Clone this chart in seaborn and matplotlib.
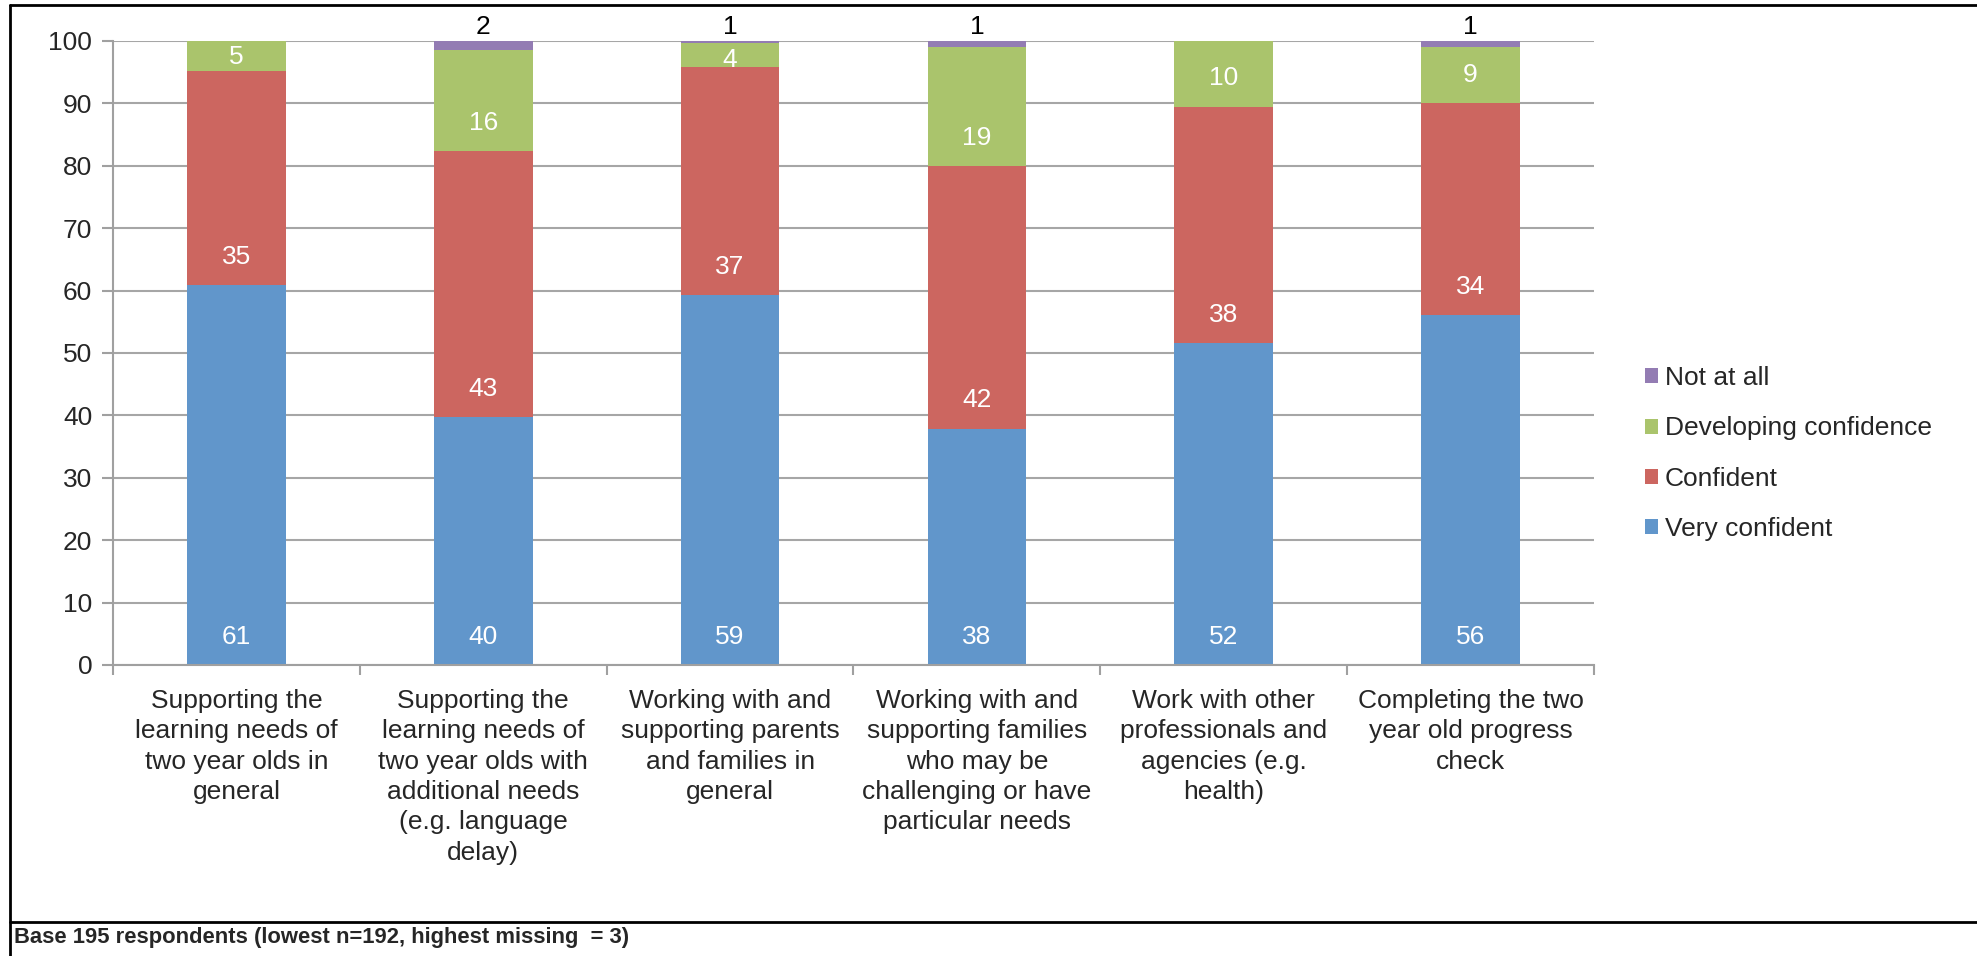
import matplotlib
matplotlib.use("Agg")
import matplotlib.pyplot as plt
import seaborn as sns
import numpy as np
import pandas as pd
from matplotlib.patches import Patch
from matplotlib.lines import Line2D

categories = [
    "Supporting the\nlearning needs of\ntwo year olds in\ngeneral",
    "Supporting the\nlearning needs of\ntwo year olds with\nadditional needs\n(e.g. language\ndelay)",
    "Working with and\nsupporting parents\nand families in\ngeneral",
    "Working with and\nsupporting families\nwho may be\nchallenging or have\nparticular needs",
    "Work with other\nprofessionals and\nagencies (e.g.\nhealth)",
    "Completing the two\nyear old progress\ncheck",
]
very_confident = [60.9, 39.7, 59.3, 37.9, 51.6, 56.1]
confident = [34.3, 42.7, 36.6, 42.1, 37.9, 34.0]
developing = [4.8, 16.1, 3.7, 19.0, 10.5, 8.9]
not_at_all = [0.0, 1.5, 0.4, 1.0, 0.0, 1.0]

very_confident_labels = [61, 40, 59, 38, 52, 56]
confident_labels = [35, 43, 37, 42, 38, 34]
developing_labels = [5, 16, 4, 19, 10, 9]
not_at_all_labels = [None, 2, 1, 1, None, 1]

series_names = ["Very confident", "Confident", "Developing confidence", "Not at all"]
colors = {"Very confident": "#6196CB", "Confident": "#CC6660",
          "Developing confidence": "#AAC46C", "Not at all": "#937CB3"}
yticks = [0, 10, 20, 30, 40, 50, 60, 70, 80, 90, 100]

sns.set_theme(style="white")
plt.rcParams["font.family"] = ["Liberation Sans", "DejaVu Sans"]

W, H = 1977, 956
fig = plt.figure(figsize=(W / 100, H / 100), dpi=100)
ax = fig.add_axes([113 / W, 1 - 665 / H, (1594 - 113) / W, (665 - 41) / H])

vals = np.array([very_confident, confident, developing, not_at_all])
cum = np.cumsum(vals, axis=0)
idx = list(range(len(categories)))

# draw cumulative totals from tallest to shortest (stacked look)
for k in range(3, -1, -1):
    df = pd.DataFrame({"cat": idx, "val": cum[k]})
    sns.barplot(data=df, x="cat", y="val", color=colors[series_names[k]],
                width=0.4, saturation=1, ax=ax, edgecolor="none", linewidth=0,
                errorbar=None, order=idx)

fs = 19
label_sets = [very_confident_labels, confident_labels, developing_labels]
for k in range(3):
    for i in idx:
        seg = vals[k][i]
        top = cum[k][i]
        base = top - seg
        y = min(base + 4.5, top - 2.6)
        ax.text(i, y, str(label_sets[k][i]), ha="center", va="center",
                color="white", fontsize=fs)
for i in idx:
    if not_at_all_labels[i] is not None:
        ax.text(i, cum[3][i] + 2.2, str(not_at_all_labels[i]), ha="center",
                va="center", color="black", fontsize=fs, clip_on=False)

ax.set_ylim(0, 100)
ax.set_xlim(-0.5, 5.5)
ax.set_yticks(yticks)
ax.set_yticklabels([str(t) for t in yticks], fontsize=fs)
ax.set_xticks(idx)
ax.set_xticklabels(categories, fontsize=fs, linespacing=1.34, va="top")
ax.set_xticks([i - 0.5 for i in range(len(categories) + 1)], minor=True)
ax.tick_params(axis="x", which="major", length=0, pad=17)
ax.tick_params(axis="x", which="minor", length=7, width=1.5, color="#a0a0a0", bottom=True)
ax.tick_params(axis="y", length=8, width=1.5, color="#a0a0a0", left=True, pad=7)
ax.set_xlabel("")
ax.set_ylabel("")
ax.yaxis.grid(True, color="#a6a6a6", linewidth=1.5)
ax.set_axisbelow(True)
for s in ["top", "right"]:
    ax.spines[s].set_visible(False)
for s in ["left", "bottom"]:
    ax.spines[s].set_color("#a0a0a0")
    ax.spines[s].set_linewidth(1.5)

handles = [Patch(facecolor=colors[n], edgecolor="none") for n in series_names[::-1]]
fig.legend(handles, series_names[::-1], loc="upper left",
           bbox_to_anchor=(1645 / W, 1 - 366 / H), frameon=False, fontsize=fs,
           handlelength=0.5, handleheight=0.5, handletextpad=0.25,
           labelspacing=1.0, borderaxespad=0, borderpad=0)

# figure frame lines
lw = 2
fig.add_artist(Line2D([10 / W, 1], [1 - 5 / H, 1 - 5 / H], color="black", lw=lw, transform=fig.transFigure))
fig.add_artist(Line2D([10 / W, 10 / W], [0, 1 - 5 / H], color="black", lw=lw, transform=fig.transFigure))
fig.add_artist(Line2D([10 / W, 1], [1 - 922 / H, 1 - 922 / H], color="black", lw=lw, transform=fig.transFigure))

fig.text(14 / W, 1 - 938 / H, "Base 195 respondents (lowest n=192, highest missing  = 3)",
         fontsize=15.8, fontweight="bold", va="center", ha="left")

fig.savefig("out.png", dpi=100)
